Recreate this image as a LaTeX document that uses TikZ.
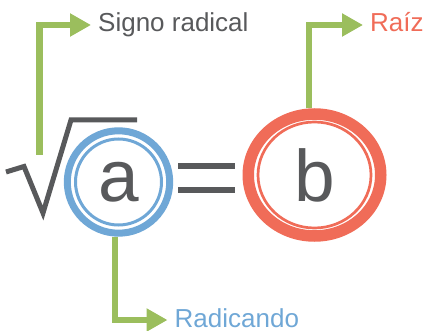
\documentclass[tikz,border=0pt]{standalone}
\usepackage{fontspec}
\setmainfont{Liberation Sans}
\usetikzlibrary{arrows.meta,shapes.geometric}
\definecolor{cgray}{RGB}{88,89,91}
\definecolor{cgreen}{RGB}{155,190,93}
\definecolor{cblue}{RGB}{111,167,214}
\definecolor{cred}{RGB}{240,108,88}
\tikzset{
  lbl/.style={inner sep=0pt, anchor=base west, text height=16pt, text depth=2pt,
    font=\fontsize{26}{30}\selectfont},
  bigletter/.style={text=cgray, inner sep=0pt, font=\fontsize{73}{80}\selectfont},
  greenarrow/.style={draw=cgreen, line width=6.5pt, line join=miter,
    -{Triangle[length=21pt,width=22pt]}, shorten >=7pt},
  eqbar/.style={fill=cgray, draw=none},
}
\begin{document}
\begin{tikzpicture}[x=1pt,y=-1pt]
\useasboundingbox (0,0) rectangle (425,331);
% radicand circle
\node[bigletter, circle, draw=cblue, line width=7pt, minimum size=102.4pt] (a) at (118.5,182) {a};
\draw[cblue, line width=3pt] (a.center) circle[radius=43pt];
% root ellipse
\node[bigletter, ellipse, draw=cred, line width=11.5pt, minimum width=132.5pt, minimum height=122pt] (b) at (314.5,175) {b};
\draw[cred, line width=2.7pt] (b.center) ellipse[x radius=56.5pt, y radius=53pt];
% equal sign
\fill[eqbar] (178,163.3) rectangle (235,169.3);
\fill[eqbar] (178,187.3) rectangle (235,193.3);
% radical sign
\draw[cgray, line width=5pt, line join=miter, miter limit=10]
  (6,172) -- (24,166.5) -- (43,213) -- (71,120) -- (137,120);
% labels
\node[lbl, text=cgray] (signo) at (98,32) {Signo radical};
\node[lbl, text=cred] (raiz) at (370,32) {Raíz};
\node[lbl, text=cblue] (radicando) at (174.5,327) {Radicando};
% connectors
\coordinate (rs) at (39.5,155);
\draw[greenarrow] (rs) |- (signo.west);
\draw[greenarrow] ([xshift=-5.5pt]b.north) |- (raiz.west);
\draw[greenarrow] ([xshift=-3.5pt]a.south) |- (radicando.west);
\end{tikzpicture}
\end{document}
